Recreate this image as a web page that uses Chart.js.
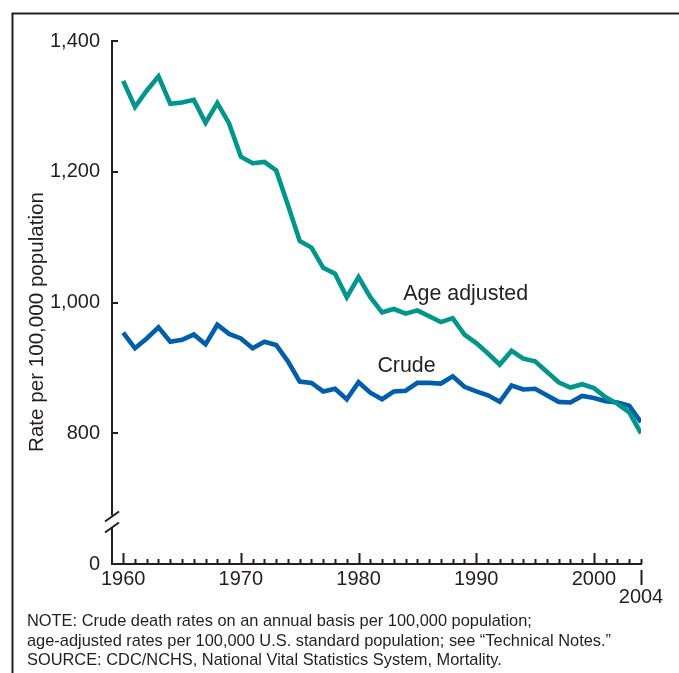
<!DOCTYPE html>
<html>
<head>
<meta charset="utf-8">
<title>Death rates, 1960-2004</title>
<script src="https://cdn.jsdelivr.net/npm/chart.js@4.4.1/dist/chart.umd.min.js"></script>
<style>
  html, body { margin: 0; padding: 0; background: #fff; }
  #wrap { position: relative; width: 679px; height: 673px; overflow: hidden; }
  #chart { position: absolute; left: 0; top: 0; }
  .note {
    position: absolute; left: 27px; top: 611px;
    font: 16.4px/19.6px 'Liberation Sans', Arial, sans-serif;
    color: #231f20; white-space: nowrap;
  }
</style>
</head>
<body>
<div id="wrap">
  <canvas id="chart" width="679" height="673"></canvas>
  <div class="note">NOTE: Crude death rates on an annual basis per 100,000 population;<br>age-adjusted rates per 100,000 U.S. standard population; see “Technical Notes.”<br>SOURCE: CDC/NCHS, National Vital Statistics System, Mortality.</div>
</div>
<script>
const years = [1960,1961,1962,1963,1964,1965,1966,1967,1968,1969,
               1970,1971,1972,1973,1974,1975,1976,1977,1978,1979,
               1980,1981,1982,1983,1984,1985,1986,1987,1988,1989,
               1990,1991,1992,1993,1994,1995,1996,1997,1998,1999,
               2000,2001,2002,2003,2004];
const ageAdjusted = [1339,1299,1324,1346,1304,1306,1310,1275,1305,1274,
                     1223,1213,1215,1202,1149,1094,1084,1053,1044,1008,
                     1039,1008,985,990,983,988,979,970,976,951,
                     938,922,905,926,914,910,894,878,870,875,
                     869,855,845,832,800];
const crude = [954,930,945,962,940,943,951,936,966,952,
               945,930,940,935,910,879,877,864,868,852,
               878,862,852,864,865,877,877,876,887,871,
               864,858,848,873,867,868,858,848,847,857,
               854,849,847,842,817];
const seriesNames = ['Age adjusted', 'Crude'];
const yTicks = [600, 800, 1000, 1200, 1400];   // 600 sits at the broken origin and reads "0"
const xLabelYears = [1960, 1970, 1980, 1990, 2000, 2004];
const decadeYears = [1960, 1970, 1980, 1990, 2000];

const INK = '#231f20';
const TEAL = '#00968b';
const BLUE = '#005eab';
const FONT = "'Liberation Sans', Arial, sans-serif";

// where the two series names sit, in data units
const labelSpots = [
  { text: seriesNames[0], x: 1983.8, y: 1004 },
  { text: seriesNames[1], x: 1981.6, y: 893 }
];
const breakValue = 665;

Chart.defaults.font.family = FONT;
Chart.defaults.color = INK;

function line(ctx, x1, y1, x2, y2) {
  ctx.beginPath();
  ctx.moveTo(x1, y1);
  ctx.lineTo(x2, y2);
  ctx.stroke();
}

const extras = {
  id: 'extras',
  afterDraw(chart) {
    const { ctx, scales: { x, y } } = chart;
    const left = chart.chartArea.left, bottom = chart.chartArea.bottom;
    ctx.save();
    ctx.strokeStyle = INK;
    ctx.lineWidth = 2;

    // frame, left and top only
    line(ctx, 12.5, 13.5, 12.5, 673);
    line(ctx, 11.5, 13.5, 679, 13.5);

    // inward y ticks
    yTicks.slice(1).forEach(v => {
      const py = Math.round(y.getPixelForValue(v));
      line(ctx, left, py, left + 6, py);
    });
    // yearly x ticks, taller on decades
    years.forEach(yr => {
      const px = Math.round(x.getPixelForValue(yr)) + 0.5;
      const len = decadeYears.includes(yr) ? 11 : 5;
      line(ctx, px, bottom, px, bottom - len);
    });
    const p04 = Math.round(x.getPixelForValue(2004)) + 0.5;
    line(ctx, p04, bottom + 6, p04, bottom + 21);

    // axis break
    const pb = y.getPixelForValue(breakValue);
    ctx.fillStyle = '#fff';
    ctx.fillRect(left - 3, pb - 6, 6, 12);
    line(ctx, left - 7, pb, left + 7, pb - 10);
    line(ctx, left - 7, pb + 11, left + 7, pb + 1);

    // axis title
    ctx.fillStyle = INK;
    ctx.font = '20.6px ' + FONT;
    ctx.textAlign = 'center';
    ctx.textBaseline = 'middle';
    ctx.translate(37, 322);
    ctx.rotate(-Math.PI / 2);
    ctx.fillText('Rate per 100,000 population', 0, 0);
    ctx.setTransform(1, 0, 0, 1, 0, 0);

    // series names
    ctx.font = '21.4px ' + FONT;
    ctx.textAlign = 'left';
    ctx.textBaseline = 'alphabetic';
    labelSpots.forEach(s => {
      ctx.fillText(s.text, x.getPixelForValue(s.x), y.getPixelForValue(s.y));
    });
    ctx.restore();
  }
};

new Chart(document.getElementById('chart'), {
  type: 'line',
  data: {
    datasets: [
      {
        label: seriesNames[0],
        data: years.map((yr, i) => ({ x: yr, y: ageAdjusted[i] })),
        borderColor: TEAL, borderWidth: 4.6, pointRadius: 0, tension: 0
      },
      {
        label: seriesNames[1],
        data: years.map((yr, i) => ({ x: yr, y: crude[i] })),
        borderColor: BLUE, borderWidth: 4.6, pointRadius: 0, tension: 0
      }
    ]
  },
  options: {
    responsive: false,
    animation: false,
    layout: { padding: { left: 12, right: 38, top: 41, bottom: 49 } },
    plugins: { legend: { display: false }, tooltip: { enabled: false } },
    scales: {
      x: {
        type: 'linear',
        min: 1959.05, max: 2004,
        afterBuildTicks: s => { s.ticks = xLabelYears.map(v => ({ value: v })); },
        afterFit: s => { s.height = 60; },
        grid: { display: false, drawTicks: false },
        border: { display: true, color: INK, width: 2 },
        ticks: {
          padding: 6, maxRotation: 0, autoSkip: false,
          font: { size: 20, lineHeight: 0.9 },
          callback: v => v === 2004 ? ['', '2004'] : String(v)
        }
      },
      y: {
        min: 600, max: 1400,
        afterBuildTicks: s => { s.ticks = yTicks.map(v => ({ value: v })); },
        afterFit: s => { s.width = 100; },
        grid: { display: false, drawTicks: false },
        border: { display: true, color: INK, width: 2 },
        ticks: {
          padding: 12,
          font: { size: 20 },
          callback: v => v === 600 ? '0' : v.toLocaleString('en-US')
        }
      }
    }
  },
  plugins: [extras]
});
</script>
</body>
</html>
